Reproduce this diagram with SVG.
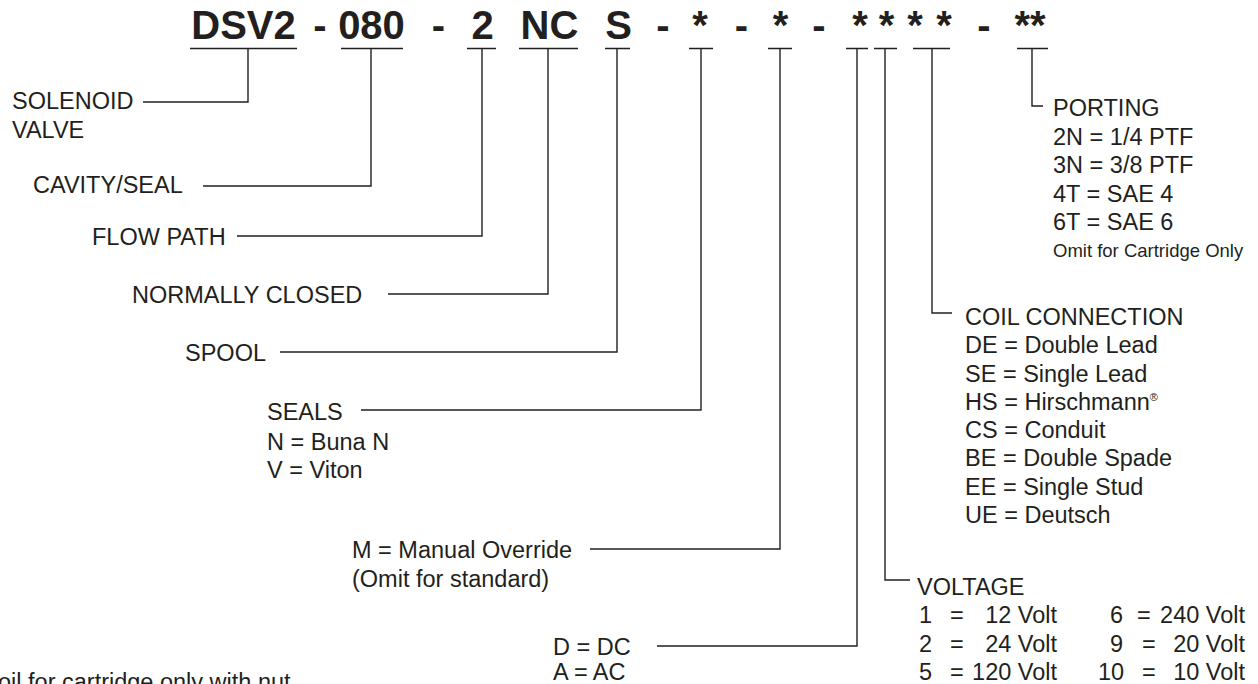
<svg xmlns="http://www.w3.org/2000/svg" width="1258" height="684" viewBox="0 0 1258 684">
<style>
text{font-family:"Liberation Sans",Arial,sans-serif;fill:#231f20}
.h{font-size:40px;font-weight:bold;text-anchor:middle}
.t{font-size:23.5px}
.e{text-anchor:end}
.s{font-size:18.5px}
.ln{fill:none;stroke:#231f20;stroke-width:1.4}
.ul{fill:none;stroke:#231f20;stroke-width:1.6}
</style>
<rect width="1258" height="684" fill="#fff"/>
<g id="code">
<text class="h" x="243.5" y="39">DSV2</text>
<text class="h" x="320" y="39">-</text>
<text class="h" x="371.5" y="39">080</text>
<text class="h" x="438.5" y="39">-</text>
<text class="h" x="482.5" y="39">2</text>
<text class="h" x="549.5" y="39">NC</text>
<text class="h" x="618.5" y="39">S</text>
<text class="h" x="663" y="39">-</text>
<text class="h" x="700" y="39">*</text>
<text class="h" x="741.5" y="39">-</text>
<text class="h" x="780.5" y="39">*</text>
<text class="h" x="819" y="39">-</text>
<text class="h" x="860" y="39">*</text>
<text class="h" x="886.5" y="39">*</text>
<text class="h" x="915" y="39">*</text>
<text class="h" x="944" y="39">*</text>
<text class="h" x="984" y="39">-</text>
<text class="h" x="1030" y="39">**</text>
<path class="ul" d="M190 48.5H297M341 48.5H403M467 48.5H496M519 48.5H578M605 48.5H630M689 48.5H713M768 48.5H792M846 48.5H868M874 48.5H897M913 48.5H950M1017 48.5H1048"/>
</g>
<g id="connectors">
<path class="ln" d="M248 48.5V102H143"/>
<path class="ln" d="M371 48.5V186H203"/>
<path class="ln" d="M482 48.5V236H237"/>
<path class="ln" d="M548 48.5V294H388"/>
<path class="ln" d="M617 48.5V352H280"/>
<path class="ln" d="M701 48.5V410H361"/>
<path class="ln" d="M780 48.5V549H590"/>
<path class="ln" d="M857 48.5V646H657"/>
<path class="ln" d="M885 48.5V580H910"/>
<path class="ln" d="M932 48.5V313H952"/>
<path class="ln" d="M1032 48.5V106H1043"/>
</g>
<g id="solenoid"><text class="t" x="12" y="109">SOLENOID</text><text class="t" x="12" y="138">VALVE</text></g>
<g id="cavity"><text class="t" x="33" y="193">CAVITY/SEAL</text></g>
<g id="flow"><text class="t" x="92" y="245">FLOW PATH</text></g>
<g id="nc"><text class="t" x="132" y="303">NORMALLY CLOSED</text></g>
<g id="spool"><text class="t" x="185" y="361">SPOOL</text></g>
<g id="seals"><text class="t" x="267" y="420">SEALS</text><text class="t" x="267" y="450">N = Buna N</text><text class="t" x="267" y="478">V = Viton</text></g>
<g id="override"><text class="t" x="352" y="558">M = Manual Override</text><text class="t" x="352" y="587">(Omit for standard)</text></g>
<g id="dcac"><text class="t" x="553" y="655">D = DC</text><text class="t" x="553" y="680">A = AC</text></g>
<g id="note"><text class="t" x="-2" y="690">oil for cartridge only with nut</text></g>
<g id="porting">
<text class="t" x="1053" y="116">PORTING</text>
<text class="t" x="1053" y="145">2N = 1/4 PTF</text>
<text class="t" x="1053" y="173">3N = 3/8 PTF</text>
<text class="t" x="1053" y="202">4T = SAE 4</text>
<text class="t" x="1053" y="230">6T = SAE 6</text>
<text class="s" x="1053" y="257">Omit for Cartridge Only</text>
</g>
<g id="coil">
<text class="t" x="965" y="325">COIL CONNECTION</text>
<text class="t" x="965" y="353">DE = Double Lead</text>
<text class="t" x="965" y="382">SE = Single Lead</text>
<text class="t" x="965" y="410">HS = Hirschmann<tspan font-size="11" dy="-9">®</tspan></text>
<text class="t" x="965" y="438">CS = Conduit</text>
<text class="t" x="965" y="466">BE = Double Spade</text>
<text class="t" x="965" y="495">EE = Single Stud</text>
<text class="t" x="965" y="523">UE = Deutsch</text>
</g>
<g id="voltage">
<text class="t" x="917" y="595">VOLTAGE</text>
<text class="t" x="919" y="623">1</text><text class="t" x="950" y="623">=</text><text class="t e" x="1057" y="623">12 Volt</text>
<text class="t" x="919" y="652">2</text><text class="t" x="950" y="652">=</text><text class="t e" x="1057" y="652">24 Volt</text>
<text class="t" x="919" y="680">5</text><text class="t" x="950" y="680">=</text><text class="t e" x="1057" y="680">120 Volt</text>
<text class="t" x="1110" y="623">6</text><text class="t" x="1137" y="623">=</text><text class="t e" x="1245" y="623">240 Volt</text>
<text class="t" x="1110" y="652">9</text><text class="t" x="1142" y="652">=</text><text class="t e" x="1245" y="652">20 Volt</text>
<text class="t" x="1098" y="680">10</text><text class="t" x="1142" y="680">=</text><text class="t e" x="1245" y="680">10 Volt</text>
</g>
</svg>
